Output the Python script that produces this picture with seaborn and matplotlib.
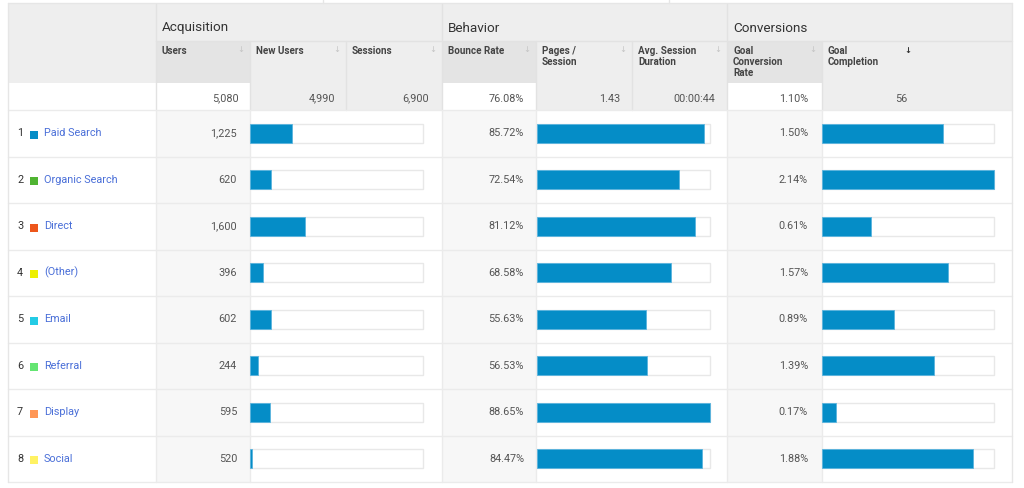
import matplotlib
matplotlib.use("Agg")
import matplotlib.pyplot as plt
from matplotlib.patches import Rectangle
import seaborn as sns
import pandas as pd

# ---- data ----
channels = ["Paid Search", "Organic Search", "Direct", "(Other)",
            "Email", "Referral", "Display", "Social"]
channel_colors = ["#058dc7", "#50b432", "#ed561b", "#edef00",
                  "#24cbe5", "#64e572", "#ff9655", "#fff263"]
users = [1225, 620, 1600, 396, 602, 244, 595, 520]
new_users_share = [24.1, 12.2, 31.8, 7.7, 12.2, 4.8, 11.6, 1.3]  # % of bar track
bounce_rate = [85.72, 72.54, 81.12, 68.58, 55.63, 56.53, 88.65, 84.47]
goal_conv_rate = [1.50, 2.14, 0.61, 1.57, 0.89, 1.39, 0.17, 1.88]

groups = ["Acquisition", "Behavior", "Conversions"]
metrics = ["Users", "New Users", "Sessions", "Bounce Rate", "Pages /\nSession",
           "Avg. Session\nDuration", "Goal\nConversion\nRate", "Goal\nCompletion"]
totals = ["5,080", "4,990", "6,900", "76.08%", "1.43", "00:00:44", "1.10%", "56"]

sns.set_style("white")
plt.rcParams["font.family"] = ["Roboto", "DejaVu Sans"]

W, H = 1024, 488
LEFT, RIGHT = 8, 1012
cols = [156, 250, 346, 442, 536, 632, 727, 822, RIGHT]
ROW0, ROWH = 110, 46.5
BOTTOM = ROW0 + ROWH * len(channels)
LINE = "#e6e6e6"
BAR_BLUE = "#058dc7"

fig = plt.figure(figsize=(W / 100, H / 100), dpi=100)
ax = fig.add_axes([0, 0, 1, 1])
ax.set_xlim(0, W)
ax.set_ylim(H, 0)
ax.axis("off")

# top strip
ax.plot([LEFT, RIGHT], [3, 3], color=LINE, lw=1)
for x in (323, 669):
    ax.plot([x, x], [0, 3], color=LINE, lw=1)

# header backgrounds
ax.add_patch(Rectangle((LEFT, 4), RIGHT - LEFT, 79, fc="#eeeeee", ec="none"))
for i in (0, 3, 6):
    ax.add_patch(Rectangle((cols[i], 41), cols[i + 1] - cols[i], 42, fc="#e4e4e4", ec="none"))

# totals row backgrounds
ax.add_patch(Rectangle((LEFT, 83), cols[0] - LEFT, 27, fc="white", ec="none"))
for i in range(8):
    fc = "white" if i in (0, 3, 6) else "#eeeeee"
    ax.add_patch(Rectangle((cols[i], 83), cols[i + 1] - cols[i], 27, fc=fc, ec="none"))

# data row backgrounds
for i in (0, 3, 6):
    ax.add_patch(Rectangle((cols[i], ROW0), cols[i + 1] - cols[i], BOTTOM - ROW0,
                           fc="#f7f7f7", ec="none"))

# grid lines
ax.plot([cols[0], RIGHT], [41, 41], color="#e2e2e2", lw=1)
for x in cols[:-1]:
    ax.plot([x, x], [41, 110], color="#e2e2e2", lw=1)
for x in (cols[0], cols[3], cols[6]):
    ax.plot([x, x], [4, 41], color="#e2e2e2", lw=1)
for k in range(len(channels) + 1):
    y = ROW0 + ROWH * k
    ax.plot([LEFT, RIGHT], [y, y], color="#ebebeb", lw=1)
for x in (cols[0], cols[1], cols[3], cols[4], cols[6], cols[7]):
    ax.plot([x, x], [ROW0, BOTTOM], color="#ebebeb", lw=1)
ax.plot([LEFT, LEFT], [3, BOTTOM], color=LINE, lw=1)
ax.plot([RIGHT, RIGHT], [3, BOTTOM], color=LINE, lw=1)

# header texts
for g, x in zip(groups, (cols[0], cols[3], cols[6])):
    ax.text(x + 6, 28, g, fontsize=9.7, color="#333333", va="center", ha="left")
for i, m in enumerate(metrics):
    ax.text(cols[i] + 6, 46, m, fontsize=7.1, fontweight="bold", color="#444444",
            va="top", ha="left", linespacing=1.1)
    arrow_x = 908 if i == 7 else cols[i + 1] - 9
    ax.text(arrow_x, 50.5, "\u2193", fontsize=6, color="#333333" if i == 7 else "#c4c4c4",
            va="center", ha="center", fontweight="bold" if i == 7 else "normal")

# totals
total_right = [239, 335, 429, 524, 620, 715, 808, 907]
for t, x in zip(totals, total_right):
    ax.text(x, 98.5, t, fontsize=7.8, color="#555555", ha="right", va="center")

# row labels and values
for k, ch in enumerate(channels):
    cy = ROW0 + ROWH * (k + 0.5)
    ax.text(17, cy, str(k + 1), fontsize=7.8, color="#333333", ha="left", va="center")
    ax.add_patch(Rectangle((30, cy - 2.5), 8, 8, fc=channel_colors[k], ec="none"))
    ax.text(44, cy, ch, fontsize=7.8, color="#4a6fd8", ha="left", va="center")
    ax.text(237, cy, f"{users[k]:,}", fontsize=7.8, color="#555555", ha="right", va="center")
    ax.text(524, cy, f"{bounce_rate[k]:.2f}%", fontsize=7.8, color="#555555", ha="right", va="center")
    ax.text(808, cy, f"{goal_conv_rate[k]:.2f}%", fontsize=7.8, color="#555555", ha="right", va="center")

# ---- bars drawn with seaborn ----
df = pd.DataFrame({
    "Channel": channels,
    "New Users %": new_users_share,
    "Bounce Rate": bounce_rate,
    "Goal Conversion Rate": goal_conv_rate,
})


def bar_column(x0, x1, col, vmax):
    bax = fig.add_axes([x0 / W, (H - BOTTOM) / H, (x1 - x0) / W, (BOTTOM - ROW0) / H])
    bax.patch.set_alpha(0)
    track = df.assign(track=vmax)
    sns.barplot(track, x="track", y="Channel", orient="h", color="white",
                edgecolor="#e8e8e8", linewidth=1, width=0.4, saturation=1, ax=bax)
    sns.barplot(df, x=col, y="Channel", orient="h", color=BAR_BLUE,
                edgecolor="#5ab4de", linewidth=0.6, width=0.4, saturation=1, ax=bax)
    bax.set_xlim(0, vmax)
    bax.set_ylim(len(channels) - 0.5, -0.5)
    for p in bax.patches:
        p.set_clip_on(False)
    bax.axis("off")


bar_column(250, 423, "New Users %", 100)
bar_column(537, 710, "Bounce Rate", max(bounce_rate))
bar_column(822, 994, "Goal Conversion Rate", max(goal_conv_rate))

fig.savefig("out.png", dpi=100)
